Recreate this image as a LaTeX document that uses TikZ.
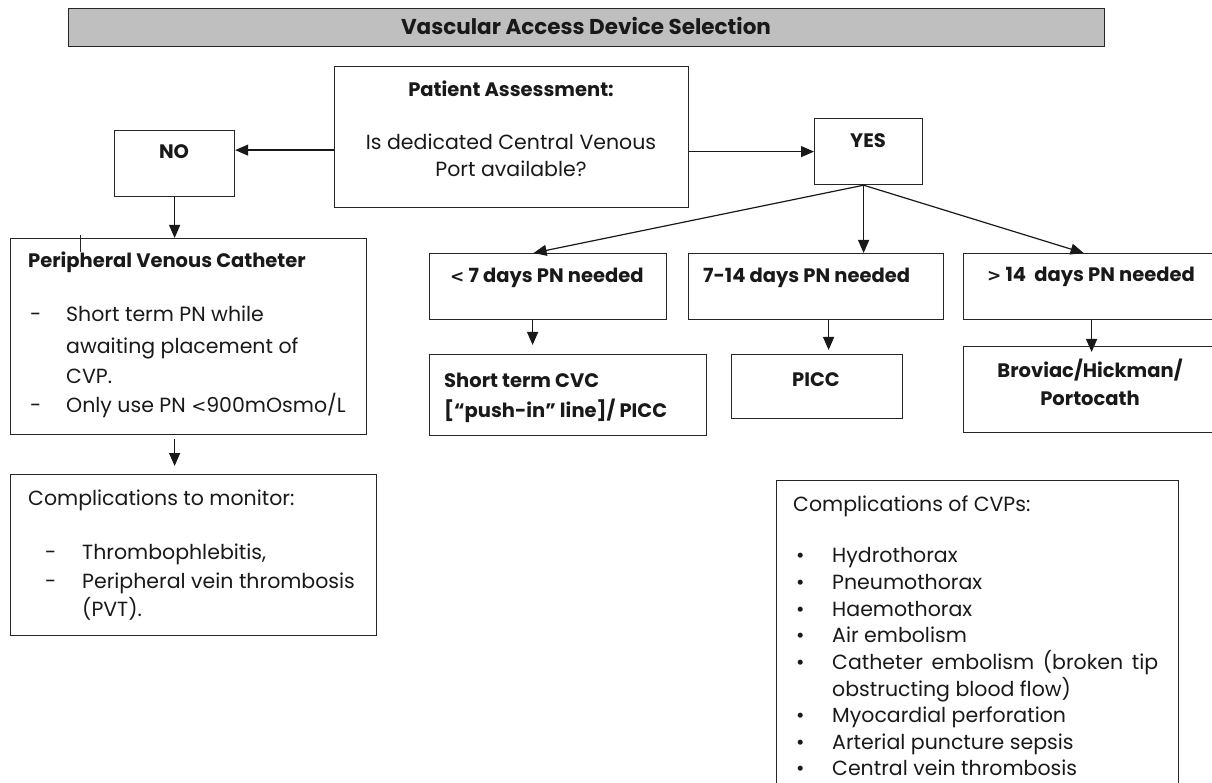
\documentclass[tikz,border=0pt]{standalone}
\usepackage{fontspec}
\setmainfont{Poppins}
\newfontfamily\symf{DejaVu Sans}
\usetikzlibrary{arrows.meta,calc}
\begin{document}
\begin{tikzpicture}[x=1pt,y=-1pt,
  box/.style={draw=black!85, line width=1.2pt, inner sep=0pt, anchor=north west},
  tx/.style={inner sep=0pt, text height=10pt, text depth=3pt, yshift=-4.5pt, font=\fontsize{20.5}{24}\selectfont, text=black!90},
  btx/.style={tx, font=\fontsize{19.5}{23}\selectfont\bfseries},
  arr/.style={line width=1.2pt, draw=black!90, -{Triangle[length=13pt,width=11pt]}}
]
\useasboundingbox (0,0) rectangle (1212,783);
% boxes
\node[box, fill=black!25, minimum width=1036pt, minimum height=38pt] (title) at (68,8) {};
\node[box, minimum width=354pt, minimum height=141pt] (patient) at (334,66) {};
\node[box, minimum width=120pt, minimum height=66pt] (no) at (114,130) {};
\node[box, minimum width=108pt, minimum height=66pt] (yes) at (814,118) {};
\node[box, minimum width=356pt, minimum height=196pt] (pvc) at (10,238) {};
\node[box, minimum width=366pt, minimum height=161pt] (comp1) at (10,474) {};
\node[box, minimum width=237pt, minimum height=66pt] (d1) at (429,253) {};
\node[box, minimum width=255pt, minimum height=66pt] (d2) at (688,253) {};
\node[box, minimum width=251pt, minimum height=66pt] (d3) at (963,253) {};
\node[box, minimum width=277pt, minimum height=81pt] (s1) at (429,354) {};
\node[box, minimum width=171pt, minimum height=64pt] (s2) at (731,354) {};
\node[box, minimum width=251pt, minimum height=86pt] (s3) at (963,346) {};
\node[box, minimum width=402pt, minimum height=320pt] (cvp) at (776,480) {};
% stray mark
\draw[line width=0.8pt, black!85] ([xshift=70pt,yshift=3pt]pvc.north west) -- ([xshift=70pt,yshift=-14pt]pvc.north west);
% connectors
\draw[arr] ([yshift=-13pt]patient.west) -- ([yshift=-13pt]patient.west -| no.east);
\draw[arr] (yes.west -| patient.east) -- (yes.west);
\draw[arr] (no.south) -- (no.south |- pvc.north);
\draw[arr, shorten <=4pt, shorten >=8pt] ([xshift=-14pt]pvc.south) -- ([xshift=-14pt]pvc.south |- comp1.north);
\coordinate (ys) at ([xshift=-5pt]yes.south);
\draw[arr] (ys) -- ([xshift=-14.5pt]d1.north);
\draw[arr] (ys) -- (ys |- d2.north);
\draw[arr] (ys) -- ([xshift=-5.5pt]d3.north);
\draw[arr, shorten >=9pt] ([xshift=-15.5pt]d1.south) -- ([xshift=-15.5pt]d1.south |- s1.north);
\draw[arr, shorten >=4pt] ([xshift=12.5pt]d2.south) -- ([xshift=12.5pt]d2.south |- s2.north);
\draw[arr, shorten >=-6pt] ([xshift=2.5pt]d3.south) -- ([xshift=2.5pt]d3.south |- s3.north);
% texts
\node[btx, font=\fontsize{21.5}{25}\selectfont\bfseries] (titletx) at (586,27) {Vascular Access Device Selection};
\node[btx] (patx) at (511,89) {Patient Assessment:};
\node[tx] (q1) at (511,142) {Is dedicated Central Venous};
\node[tx] (q2) at (511,169) {Port available?};
\node[btx] (notx) at (174,151) {NO};
\node[btx] (yestx) at (868,140) {YES};
\node[btx, anchor=west] (pvctx) at (28,260) {Peripheral Venous Catheter};
\node[tx, anchor=west] (pdA) at (30,314) {-};
\node[tx, anchor=west] (pA1) at (66,314) {Short term PN while};
\node[tx, anchor=west] (pA2) at (66,345) {awaiting placement of};
\node[tx, anchor=west] (pA3) at (66,375) {CVP.};
\node[tx, anchor=west] (pdB) at (30,404) {-};
\node[tx, anchor=west] (pB1) at (66,404) {Only use PN {\symf\fontsize{18}{22}\selectfont <}900mOsmo/L};
\node[tx, anchor=west] (c1tx) at (28,497) {Complications to monitor:};
\node[tx, anchor=west] (cdA) at (45,551) {-};
\node[tx, anchor=west] (cA) at (82,551) {Thrombophlebitis,};
\node[tx, anchor=west] (cdB) at (45,580) {-};
\node[tx, anchor=west] (cB1) at (82,580) {Peripheral vein thrombosis};
\node[tx, anchor=west] (cB2) at (82,608) {(PVT).};
\node[btx, anchor=west] (d1tx) at (450,275) {{\symf\fontsize{17}{20}\selectfont\bfseries <} 7 days PN needed};
\node[btx, anchor=west] (d2tx) at (703,275) {7-14 days PN needed};
\node[btx, anchor=west] (d3tx) at (987,274) {{\symf\fontsize{17}{20}\selectfont\bfseries >} 14\ \ days PN needed};
\node[btx, anchor=west] (s1a) at (444,379) {Short term CVC};
\node[btx, anchor=west] (s1b) at (444,409) {[“push-in” line]/ PICC};
\node[btx] (s2tx) at (816,378) {PICC};
\node[btx] (s3a) at (1090,369) {Broviac/Hickman/};
\node[btx] (s3b) at (1090,397) {Portocath};
\node[tx, anchor=west] (cvptx) at (793,503) {Complications of CVPs:};
\foreach \yy/\tt [count=\i] in {554/Hydrothorax, 581/Pneumothorax, 608/Haemothorax, 634/Air embolism, 661/{\makebox[326pt][s]{Catheter embolism (broken tip}}, 714/Myocardial perforation, 741/Arterial puncture sepsis, 767/Central vein thrombosis}{
  \node[tx, anchor=west] (bul\i) at (796,\yy) {•};
  \node[tx, anchor=west] (itm\i) at (832,\yy) {\tt};
}
\node[tx, anchor=west] (itmx) at (832,688) {obstructing blood flow)};
\end{tikzpicture}
\end{document}
